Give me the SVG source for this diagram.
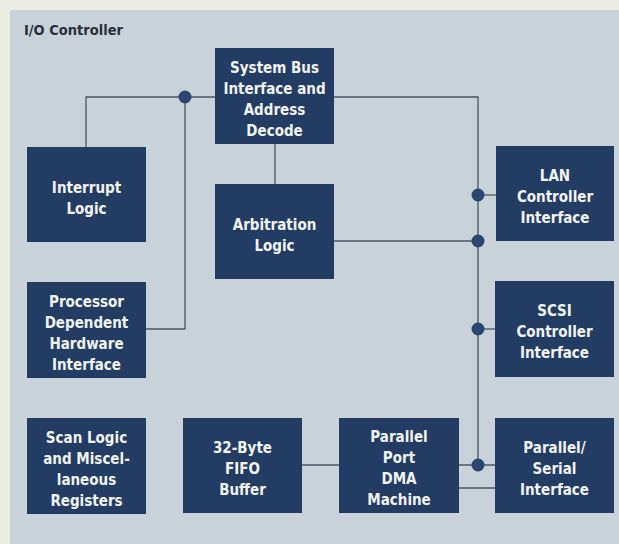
<svg xmlns="http://www.w3.org/2000/svg" width="619" height="544" viewBox="0 0 619 544">
<style>
.box{fill:#233c64;}
.lbl{font-family:"DejaVu Sans Condensed","DejaVu Sans","Liberation Sans",sans-serif;font-stretch:condensed;font-weight:bold;font-size:15px;fill:#f2f4f2;text-anchor:middle;}
.ln{stroke:#4a5563;stroke-width:1.3;fill:none;}
.dot{fill:#2b4670;}
.title{font-family:"DejaVu Sans Condensed","DejaVu Sans","Liberation Sans",sans-serif;font-stretch:condensed;font-weight:bold;font-size:14.5px;fill:#2a2f3a;}
</style>
<rect x="0" y="0" width="619" height="544" fill="#eceee6"/>
<rect x="10" y="10" width="609" height="534" fill="#c8d2d8"/>
<text class="title" x="24" y="35">I/O Controller</text>
<g id="connectors">
<polyline class="ln" points="86,147 86,97 215,97"/>
<polyline class="ln" points="185,97 185,329 146,329"/>
<polyline class="ln" points="334,97 478,97 478,465"/>
<line class="ln" x1="275" y1="144" x2="275" y2="184"/>
<line class="ln" x1="478" y1="195" x2="496" y2="195"/>
<line class="ln" x1="334" y1="241" x2="478" y2="241"/>
<line class="ln" x1="478" y1="329" x2="495" y2="329"/>
<line class="ln" x1="459" y1="465" x2="495" y2="465"/>
<line class="ln" x1="459" y1="488" x2="495" y2="488"/>
<line class="ln" x1="302" y1="465" x2="339" y2="465"/>
<circle class="dot" cx="185" cy="97" r="6.5"/>
<circle class="dot" cx="478" cy="195" r="6.5"/>
<circle class="dot" cx="478" cy="241" r="6.5"/>
<circle class="dot" cx="478" cy="329" r="6.5"/>
<circle class="dot" cx="478" cy="465" r="6.5"/>
</g>
<g id="sysbus"><rect class="box" x="215" y="48" width="119" height="96"/>
<text class="lbl" x="274.5" y="72.5">System Bus</text><text class="lbl" x="274.5" y="93.5">Interface and</text><text class="lbl" x="274.5" y="114.5">Address</text><text class="lbl" x="274.5" y="135.5">Decode</text></g>
<g id="interrupt"><rect class="box" x="27" y="147" width="119" height="95"/>
<text class="lbl" x="86.5" y="193">Interrupt</text><text class="lbl" x="86.5" y="214">Logic</text></g>
<g id="arbitration"><rect class="box" x="215" y="184" width="119" height="95"/>
<text class="lbl" x="274.5" y="230">Arbitration</text><text class="lbl" x="274.5" y="251">Logic</text></g>
<g id="lan"><rect class="box" x="496" y="146" width="118" height="95"/>
<text class="lbl" x="555" y="180.5">LAN</text><text class="lbl" x="555" y="201.5">Controller</text><text class="lbl" x="555" y="222.5">Interface</text></g>
<g id="processor"><rect class="box" x="27" y="282" width="119" height="96"/>
<text class="lbl" x="86.5" y="306.5">Processor</text><text class="lbl" x="86.5" y="327.5">Dependent</text><text class="lbl" x="86.5" y="348.5">Hardware</text><text class="lbl" x="86.5" y="369.5">Interface</text></g>
<g id="scsi"><rect class="box" x="495" y="281" width="119" height="96"/>
<text class="lbl" x="554.5" y="316">SCSI</text><text class="lbl" x="554.5" y="337">Controller</text><text class="lbl" x="554.5" y="358">Interface</text></g>
<g id="scan"><rect class="box" x="27" y="418" width="119" height="96"/>
<text class="lbl" x="86.5" y="442.5">Scan Logic</text><text class="lbl" x="86.5" y="463.5">and Miscel-</text><text class="lbl" x="86.5" y="484.5">laneous</text><text class="lbl" x="86.5" y="505.5">Registers</text></g>
<g id="fifo"><rect class="box" x="183" y="418" width="119" height="95"/>
<text class="lbl" x="242.5" y="452.5">32-Byte</text><text class="lbl" x="242.5" y="473.5">FIFO</text><text class="lbl" x="242.5" y="494.5">Buffer</text></g>
<g id="dma"><rect class="box" x="339" y="418" width="120" height="95"/>
<text class="lbl" x="399" y="442">Parallel</text><text class="lbl" x="399" y="463">Port</text><text class="lbl" x="399" y="484">DMA</text><text class="lbl" x="399" y="505">Machine</text></g>
<g id="ps"><rect class="box" x="495" y="418" width="119" height="95"/>
<text class="lbl" x="554.5" y="452.5">Parallel/</text><text class="lbl" x="554.5" y="473.5">Serial</text><text class="lbl" x="554.5" y="494.5">Interface</text></g>
</svg>
